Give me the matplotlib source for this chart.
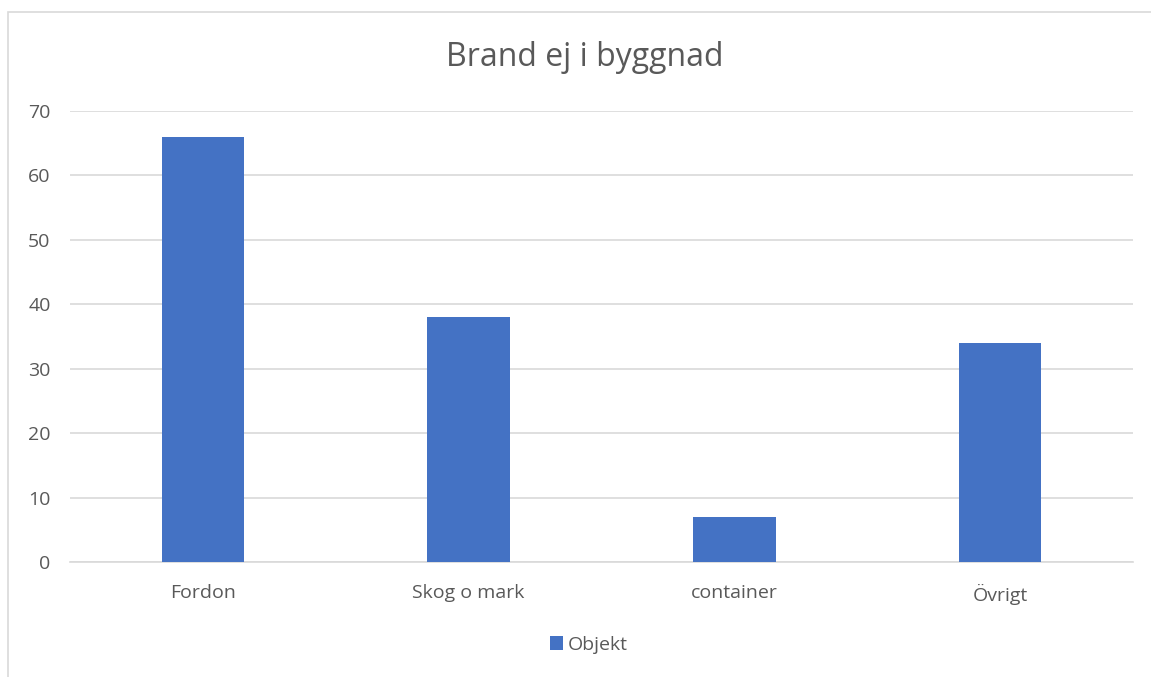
import matplotlib.pyplot as plt
from matplotlib.patches import Rectangle

# data
categories = ["Fordon", "Skog o mark", "container", "Övrigt"]
objekt = [66, 38, 7, 34]
yticks = [0, 10, 20, 30, 40, 50, 60, 70]

plt.rcParams['font.family'] = ['Open Sans', 'DejaVu Sans']
txt_col = '#595959'

fig = plt.figure(figsize=(11.51, 6.77), dpi=100)
ax = fig.add_axes([70 / 1151, 1 - 562 / 677, (1133 - 70) / 1151, (562 - 111) / 677])

ax.bar(range(len(categories)), objekt, width=0.31, color='#4472C4', label='Objekt', zorder=3)

ax.set_xlim(-0.5, len(categories) - 0.5)
ax.set_ylim(0, 70)
ax.set_yticks(yticks)
ax.set_xticks(range(len(categories)))
ax.set_xticklabels(categories)
ax.yaxis.grid(True, color='#D9D9D9', linewidth=1.2, zorder=0)
for s in ['top', 'right', 'left']:
    ax.spines[s].set_visible(False)
ax.spines['bottom'].set_color('#D9D9D9')
ax.spines['bottom'].set_linewidth(1.2)
ax.tick_params(length=0, labelsize=14, labelcolor=txt_col)
ax.tick_params(axis='x', pad=16)
ax.tick_params(axis='y', pad=14)

fig.text(585 / 1151, 1 - 66 / 677, "Brand ej i byggnad", ha='center', va='baseline',
         fontsize=23, color=txt_col)

leg = fig.legend(loc='center', bbox_to_anchor=(589 / 1151, 1 - 645 / 677), frameon=False,
                 fontsize=14, handlelength=0.7, handleheight=0.7, handletextpad=0.25)
for t in leg.get_texts():
    t.set_color(txt_col)

# chart border
fig.patches.append(Rectangle((8 / 1151, -0.05), 1.1, 1 - 12 / 677 + 0.05,
                             transform=fig.transFigure, fill=False,
                             edgecolor='#D9D9D9', linewidth=1.2))

fig.savefig('out.png', dpi=100)
